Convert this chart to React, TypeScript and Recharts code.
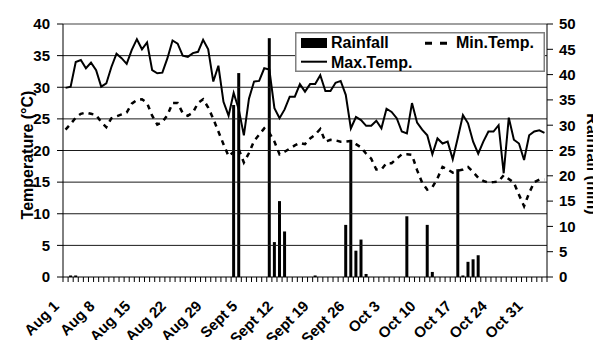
import React from 'react';
import { ComposedChart, Bar, Line, XAxis, YAxis, ReferenceLine, Legend } from 'recharts';

const FONT = '"Liberation Sans", Arial, Helvetica, sans-serif';

// Tick labels (one every 7 days, starting Aug 1)
const xLabels = ['Aug 1', 'Aug 8', 'Aug 15', 'Aug 22', 'Aug 29', 'Sept 5', 'Sept 12', 'Sept 19', 'Sept 26', 'Oct 3', 'Oct 10', 'Oct 17', 'Oct 24', 'Oct 31'];

// Daily series, Aug 1 .. Nov 3
const maxTemp = [
  29.9, 30.1, 34.0, 34.3, 33.0, 33.9, 32.7, 30.1, 30.6, 33.2,
  35.3, 34.6, 33.7, 35.9, 37.6, 36.0, 37.1, 32.7, 32.2, 32.3,
  34.6, 37.4, 36.9, 35.0, 34.8, 35.4, 35.6, 37.5, 36.0, 30.9,
  33.4, 27.7, 25.5, 29.1, 26.5, 22.4, 28.2, 30.9, 31.0, 33.0,
  32.8, 26.7, 25.1, 26.5, 28.5, 28.5, 30.5, 29.3, 30.5, 30.5,
  31.9, 29.4, 29.4, 30.7, 31.0, 28.8, 23.5, 25.3, 24.8, 23.9,
  23.9, 24.7, 23.5, 26.6, 26.1, 25.1, 23.0, 22.7, 27.5, 24.4,
  23.3, 22.4, 19.4, 21.9, 21.1, 21.4, 18.6, 22.0, 25.6, 24.3,
  21.4, 19.5, 21.4, 23.0, 23.0, 24.0, 16.4, 25.2, 21.7, 21.1,
  18.5, 22.4, 23.0, 23.2, 22.8,
];

const minTemp = [
  23.3, 24.2, 25.2, 25.8, 26.0, 25.8, 25.6, 24.5, 23.7, 25.1,
  25.4, 25.7, 26.0, 27.4, 28.0, 28.1, 27.5, 25.5, 24.1, 24.5,
  25.6, 27.5, 27.5, 25.9, 25.5, 26.0, 27.5, 28.1, 26.8, 25.0,
  23.0, 21.0, 19.1, 19.8, 20.2, 18.1, 19.6, 21.5, 22.5, 23.5,
  22.8, 21.4, 19.4, 19.8, 20.3, 20.8, 21.2, 21.0, 21.9, 22.5,
  23.4, 21.4, 21.7, 21.6, 21.4, 21.4, 21.5, 21.0, 20.5, 19.5,
  18.7, 17.0, 17.0, 18.0, 18.0, 18.7, 19.4, 19.4, 19.3, 16.9,
  14.9, 13.8, 14.2, 15.6, 17.4, 17.0, 16.5, 16.8, 17.0, 17.4,
  16.6, 15.7, 15.2, 14.9, 15.0, 15.1, 16.1, 15.5, 14.9, 13.0,
  11.2, 13.3, 15.0, 15.4, 15.4,
];

const rainfall = [
  0, 0.3, 0.3, 0, 0, 0, 0, 0, 0, 0,
  0, 0, 0, 0, 0, 0, 0, 0, 0, 0,
  0, 0, 0, 0, 0, 0, 0, 0, 0, 0,
  0, 0, 0, 34.0, 40.3, 0, 0, 0, 0, 0,
  47.2, 6.9, 15.0, 9.0, 0, 0, 0, 0, 0, 0.3,
  0, 0, 0, 0, 0, 10.3, 27.1, 5.2, 7.4, 0.6,
  0, 0, 0, 0, 0, 0, 0, 12.0, 0, 0,
  0, 10.3, 1.0, 0, 0, 0, 0, 21.3, 0.3, 3.0,
  3.5, 4.3, 0, 0, 0, 0, 0, 0, 0, 0,
  0, 0, 0, 0, 0,
];

const tempTicks = [0, 5, 10, 15, 20, 25, 30, 35, 40];
const rainTicks = [0, 5, 10, 15, 20, 25, 30, 35, 40, 45, 50];
const gridValues = [5, 10, 15, 20, 25, 30, 35];
const dayBoundaries = maxTemp.map((_, i) => i).concat([maxTemp.length]);

const data = maxTemp.map((v, i) => ({
  x: i + 0.5,
  maxTemp: v,
  minTemp: minTemp[i],
  rainfall: rainfall[i] > 0 ? rainfall[i] : null,
}));

const XTick = (props: any) => {
  const { x, y, payload } = props;
  const v = payload.value;
  if (v % 7 !== 0) return <g />;
  const label = xLabels[v / 7];
  if (!label) return <g />;
  const ax = x - 3;
  const ay = y + 23;
  return (
    <text
      x={ax}
      y={ay}
      transform={`rotate(-45 ${ax} ${ay})`}
      textAnchor="end"
      fontFamily={FONT}
      fontWeight={700}
      fontSize={15}
      fill="#000"
    >
      {label}
    </text>
  );
};

const AxisTitle = (props: any) => {
  const { tx, ty, rot, caption } = props;
  return (
    <text
      x={tx}
      y={ty}
      transform={`rotate(${rot} ${tx} ${ty})`}
      textAnchor="middle"
      fontFamily={FONT}
      fontWeight={700}
      fontSize={16}
      fill="#000"
    >
      {caption}
    </text>
  );
};

const legendText = { fontFamily: FONT, fontWeight: 700, fontSize: 16, fill: '#000' } as const;

const LegendBox = () => (
  <svg width={250} height={40} style={{ display: 'block' }}>
    <rect x={0.75} y={0.75} width={248.5} height={38.5} fill="#fff" stroke="#808080" strokeWidth={1.5} />
    <rect x={6} y={6} width={26} height={10} fill="#000" />
    <text x={36} y={16} {...legendText}>Rainfall</text>
    <line x1={6} x2={32} y1={29.7} y2={29.7} stroke="#000" strokeWidth={2} />
    <text x={36} y={35.5} {...legendText}>Max.Temp.</text>
    <line x1={130} x2={152} y1={11.3} y2={11.3} stroke="#000" strokeWidth={3} strokeDasharray="7 8" />
    <text x={161} y={16} {...legendText}>Min.Temp.</text>
  </svg>
);

const tickStyle = { fill: '#000', fontSize: 15, fontWeight: 700, fontFamily: FONT };

export default function App() {
  return (
    <div style={{ position: 'absolute', left: 8, top: 8, width: 585, height: 332 }}>
      <ComposedChart
        width={585}
        height={332}
        data={data}
        margin={{ top: 16, right: 0, bottom: 0, left: 0 }}
        barGap={0}
      >
        <XAxis
          dataKey="x"
          type="number"
          domain={[0, 95]}
          ticks={dayBoundaries}
          interval={0}
          height={63}
          tickSize={5}
          tickMargin={2}
          tick={<XTick />}
          axisLine={{ stroke: '#000', strokeWidth: 1 }}
          tickLine={{ stroke: '#000', strokeWidth: 1 }}
          allowDataOverflow
        />
        <YAxis
          yAxisId="temp"
          orientation="left"
          domain={[0, 40]}
          ticks={tempTicks}
          interval={0}
          width={55}
          tickSize={6}
          tickMargin={7}
          tick={tickStyle}
          axisLine={{ stroke: '#000', strokeWidth: 1 }}
          tickLine={{ stroke: '#000', strokeWidth: 1 }}
          label={<AxisTitle tx={25} ty={147} rot={-90} caption="Temperature (°C)" />}
        />
        <YAxis
          yAxisId="rain"
          orientation="right"
          domain={[0, 50]}
          ticks={rainTicks}
          interval={0}
          width={46}
          tickSize={6}
          tickMargin={6}
          tick={tickStyle}
          axisLine={{ stroke: '#000', strokeWidth: 1 }}
          tickLine={{ stroke: '#000', strokeWidth: 1 }}
          label={<AxisTitle tx={579} ty={156} rot={90} caption="Rainfall (mm)" />}
        />
        {gridValues.map((g) => (
          <ReferenceLine key={g} yAxisId="temp" y={g} stroke="#1a1a1a" strokeWidth={1} />
        ))}
        <ReferenceLine yAxisId="temp" y={40} stroke="#808080" strokeWidth={1.5} />
        <Bar yAxisId="rain" dataKey="rainfall" name="Rainfall" fill="#000" barSize={3} isAnimationActive={false} />
        <Line
          yAxisId="temp"
          dataKey="maxTemp"
          name="Max.Temp."
          type="linear"
          stroke="#000"
          strokeWidth={2}
          dot={false}
          activeDot={false}
          isAnimationActive={false}
        />
        <Line
          yAxisId="temp"
          dataKey="minTemp"
          name="Min.Temp."
          type="linear"
          stroke="#000"
          strokeWidth={2.5}
          strokeDasharray="5 5"
          dot={false}
          activeDot={false}
          isAnimationActive={false}
        />
        <Legend
          layout="vertical"
          verticalAlign="middle"
          align="center"
          width={250}
          height={40}
          content={<LegendBox />}
          wrapperStyle={{ position: 'absolute', left: 287, top: 24, width: 250, height: 40 }}
        />
      </ComposedChart>
    </div>
  );
}
